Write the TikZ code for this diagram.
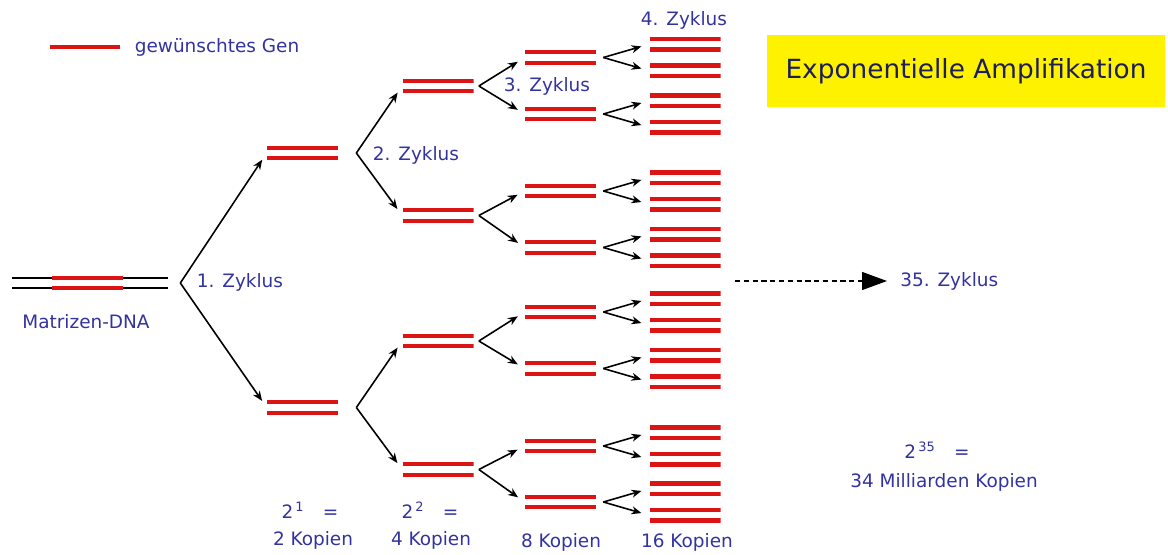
\documentclass[tikz,border=0pt]{standalone}
\usepackage{fontspec}
\setmainfont{DejaVu Sans}
\usetikzlibrary{arrows.meta, calc}
\definecolor{genered}{RGB}{220,20,20}
\definecolor{labelblue}{RGB}{50,50,160}
\definecolor{titlenavy}{RGB}{30,30,90}

\begin{document}
\begin{tikzpicture}[
  x=0.02cm, y=-0.02cm,
  genline/.style={line width=2.4pt, color=genered},
  gene/.style={minimum width=1.42cm, minimum height=0.36cm, inner sep=0pt,
    path picture={
      \draw[genline] ([yshift=0.105cm]path picture bounding box.west) -- ([yshift=0.105cm]path picture bounding box.east);
      \draw[genline] ([yshift=-0.105cm]path picture bounding box.west) -- ([yshift=-0.105cm]path picture bounding box.east);}},
  template/.style={minimum width=3.12cm, minimum height=0.34cm, inner sep=0pt,
    path picture={
      \draw[line width=0.8pt] ([yshift=0.1cm]path picture bounding box.west) -- ([yshift=0.1cm]path picture bounding box.east);
      \draw[line width=0.8pt] ([yshift=-0.1cm]path picture bounding box.west) -- ([yshift=-0.1cm]path picture bounding box.east);}},
  lbl/.style={font=\fontsize{10.5}{12}\selectfont, text=labelblue, inner sep=2pt},
  titlebox/.style={fill=yellow, minimum width=7.96cm, minimum height=1.44cm,
                   font=\fontsize{15}{18}\selectfont, text=titlenavy},
  branch/.style={-{Stealth[length=2mm, width=1.6mm]}, line width=0.9pt, shorten >=0.16cm},
  dasharrow/.style={-{Triangle[length=5mm, width=3.6mm]}, line width=0.7pt,
                    dash pattern=on 3pt off 2pt, shorten >=0.19cm}
]
\useasboundingbox (0,0) rectangle (1168,554);

% legend
\draw[genline] (50,47) -- (120,47);
\node[lbl, anchor=west] (legend) at (131,47) {gewünschtes Gen};

% title
\node[titlebox] (title) at (966,71) {Exponentielle Amplifikation};

% template DNA
\node[template] (dna) at (90,283) {};
\node[gene] (g0) at (87.5,283) {};
\node[lbl] (dnalabel) at (86,322) {Matrizen-DNA};

% generations
\node[gene] (g1-1) at (302.5,153) {};
\node[gene] (g1-2) at (302.5,407.5) {};
\foreach \yy [count=\i] in {86,215.5,341,469.5}
  \node[gene] (g2-\i) at (438,\yy) {};
\foreach \yy [count=\i] in {57.5,114,191,247.5,312,368.5,446,502} {
  \node[gene] (g3-\i) at (560.5,\yy) {};
  \node[gene] (g4-\i-a) at (685,\yy-13.3) {};
  \node[gene] (g4-\i-b) at (685,\yy+13.3) {};
}

% branching arrows
\coordinate (a0) at ([xshift=0.24cm]dna.east);
\draw[branch] (a0) -- (g1-1.west);
\draw[branch] (a0) -- (g1-2.west);
\foreach \i/\j/\k in {1/1/2, 2/3/4} {
  \coordinate (a1-\i) at ([xshift=0.36cm]g1-\i.east);
  \draw[branch] (a1-\i) -- (g2-\j.west);
  \draw[branch] (a1-\i) -- (g2-\k.west);
}
\foreach \i/\j/\k in {1/1/2, 2/3/4, 3/5/6, 4/7/8} {
  \coordinate (a2-\i) at ([xshift=0.1cm]g2-\i.east);
  \draw[branch] (a2-\i) -- (g3-\j.west);
  \draw[branch] (a2-\i) -- (g3-\k.west);
}
\foreach \i in {1,...,8} {
  \coordinate (a3-\i) at ([xshift=0.14cm]g3-\i.east);
  \draw[branch] (a3-\i) -- (g4-\i-a.west);
  \draw[branch] (a3-\i) -- (g4-\i-b.west);
}

% cycle labels
\node[lbl] (z1) at (240,282) {1. Zyklus};
\node[lbl] (z2) at (416,155) {2. Zyklus};
\node[lbl] (z3) at (547,86) {3. Zyklus};
\node[lbl] (z4) at (684,20) {4. Zyklus};

% 35 cycles
\coordinate (d0) at (735,281);
\node[lbl, anchor=west] (z35) at (896.5,281) {35. Zyklus};
\draw[dasharrow] (d0) -- (z35.west);

% copy counts
\node[lbl] (e1) at (310,510) {2\textsuperscript{\,1}\quad=};
\node[lbl] (e2) at (430,510) {2\textsuperscript{\,2}\quad=};
\node[lbl] (k1) at (313,540) {2 Kopien};
\node[lbl] (k2) at (431,540) {4 Kopien};
\node[lbl] (k3) at (561,542) {8 Kopien};
\node[lbl] (k4) at (687,542) {16 Kopien};
\node[lbl] (e35) at (937,450) {2\textsuperscript{\,35}\quad=};
\node[lbl] (k35) at (944,482) {34 Milliarden Kopien};

\end{tikzpicture}
\end{document}
